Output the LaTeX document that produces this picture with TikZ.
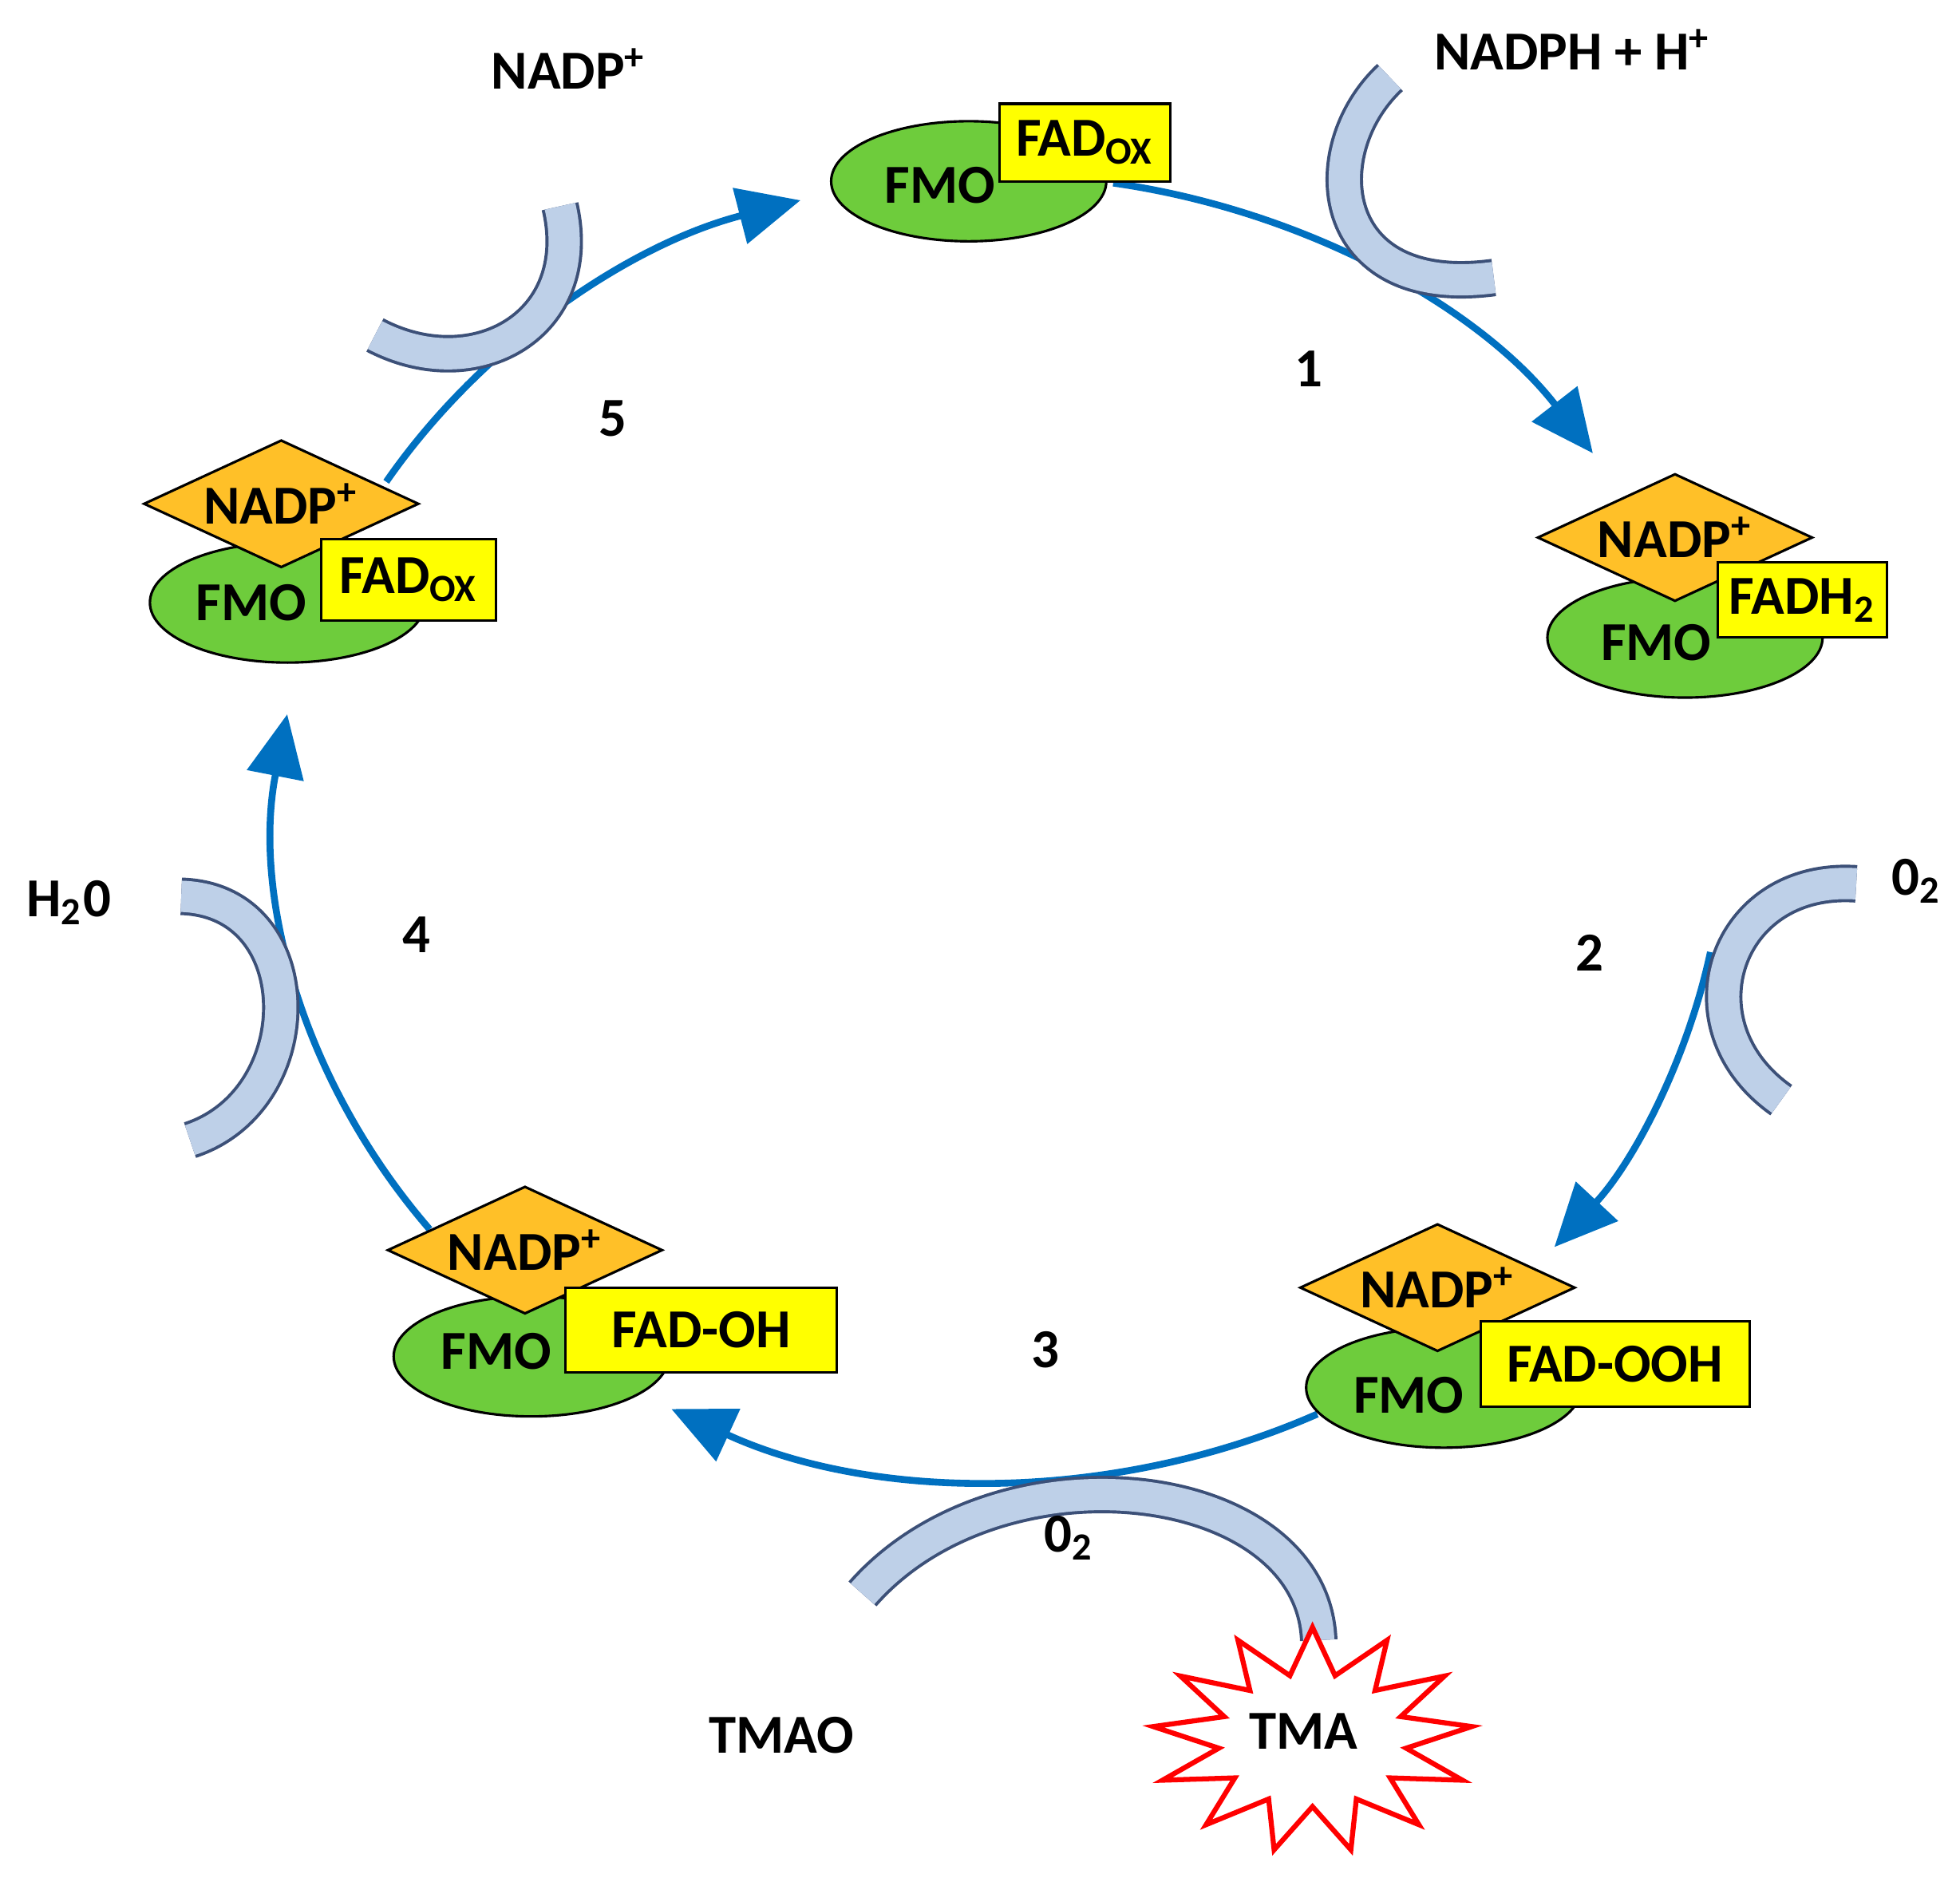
\documentclass[tikz,border=0pt]{standalone}
\usepackage{fontspec}
\setmainfont{Carlito}
\usetikzlibrary{shapes.geometric,arrows.meta,decorations.markings}
\definecolor{cyc}{RGB}{0,112,192}
\definecolor{fmo}{RGB}{110,204,60}
\definecolor{nadp}{RGB}{255,192,40}
\definecolor{fad}{RGB}{255,255,0}
\definecolor{bafill}{RGB}{190,208,232}
\definecolor{baedge}{RGB}{60,80,120}
\begin{document}
\begin{tikzpicture}[x=0.01cm,y=0.01cm,
  txt/.style={font=\fontsize{12.5pt}{14pt}\selectfont\bfseries, inner sep=0},
  fmo/.style={ellipse, draw, line width=0.02cm, fill=fmo, minimum width=2.2cm, minimum height=0.96cm, inner sep=0},
  nadp/.style={diamond, draw, line width=0.02cm, fill=nadp, minimum width=2.2cm, minimum height=1.02cm, inner sep=0, aspect=2.2, font=\fontsize{12.5pt}{14pt}\selectfont\bfseries},
  fad/.style={rectangle, draw, line width=0.02cm, fill=fad, inner sep=0, font=\fontsize{12.5pt}{14pt}\selectfont\bfseries},
  cycle arc/.style={draw=cyc, line width=0.055cm, -{Triangle[length=0.5cm,width=0.45cm]}},
  barrow/.style={draw=baedge, line width=0.025cm, double=bafill, double distance=0.25cm,
    postaction={decorate, decoration={markings, mark=at position 1 with {
      \path[fill=bafill, draw=baedge, line width=0.025cm] (-0.02cm,0.3cm)--(0.42cm,0)--(-0.02cm,-0.3cm)--cycle;}}}}]
\useasboundingbox (0,0) rectangle (1568,1502);
\coordinate (c) at (800,840);
% cycle arcs
\path[cycle arc] (c) ++(81:579 and 522) coordinate (a1) arc[start angle=81,end angle=35,x radius=579,y radius=522];
\path[cycle arc] (c) ++(-11:579 and 522) coordinate (a2) arc[start angle=-11,end angle=-40,x radius=579,y radius=522];
\path[cycle arc] (c) ++(-64:579 and 522) coordinate (a3) arc[start angle=-64,end angle=-117,x radius=579,y radius=522];
\path[cycle arc] (c) ++(218:579 and 522) coordinate (a4) arc[start angle=218,end angle=170,x radius=579,y radius=522];
\path[cycle arc] (c) ++(148:579 and 522) coordinate (a5) arc[start angle=148,end angle=106,x radius=579,y radius=522];
% block arrows
\path[barrow] (1112,1440) .. controls (1050,1382) and (1060,1262) .. (1195,1280);
\path[barrow] (300,1234) .. controls (380,1192) and (470,1242) .. (448,1337);
\path[barrow] (1485,795) .. controls (1380,802) and (1340,682) .. (1425,622);
\path[barrow] (152,590) .. controls (250,622) and (250,782) .. (145,785);
\path[barrow] (1055,190) .. controls (1050,322) and (800,352) .. (690,227);
% top complex
\node[fmo] (e1) at (775,1357) {};
\node[txt] (t1) at (752,1354) {FMO};
\node[fad, minimum width=1.37cm, minimum height=0.62cm] (f1) at (868,1388) {FAD\textsubscript{OX}};
% right-top
\node[fmo] (e2) at (1348,992) {};
\node[nadp] (d2) at (1340,1072) {NADP\textsuperscript{+}};
\node[txt] (t2) at (1325,988) {FMO};
\node[fad, minimum width=1.35cm, minimum height=0.6cm] (f2) at (1442,1022) {FADH\textsubscript{2}};
% right-bottom
\node[fmo] (e3) at (1155,392) {};
\node[nadp] (d3) at (1150,472) {NADP\textsuperscript{+}};
\node[txt] (t3) at (1127,386) {FMO};
\node[fad, minimum width=2.15cm, minimum height=0.68cm] (f3) at (1292,411) {FAD-OOH};
% bottom-left
\node[fmo] (e4) at (425,417) {};
\node[nadp] (d4) at (420,502) {NADP\textsuperscript{+}};
\node[txt] (t4) at (397,421) {FMO};
\node[fad, minimum width=2.17cm, minimum height=0.68cm] (f4) at (561,438) {FAD-OH};
% left
\node[fmo] (e5) at (230,1020) {};
\node[nadp] (d5) at (225,1099) {NADP\textsuperscript{+}};
\node[txt] (t5) at (201,1020) {FMO};
\node[fad, minimum width=1.4cm, minimum height=0.65cm] (f5) at (327,1038) {FAD\textsubscript{OX}};
% numbers
\node[txt] (n1) at (1047,1207) {1};
\node[txt] (n2) at (1272,740) {2};
\node[txt] (n3) at (836,422) {3};
\node[txt] (n4) at (333,754) {4};
\node[txt] (n5) at (490,1167) {5};
% labels
\node[txt] (l1) at (455,1447) {NADP\textsuperscript{+}};
\node[txt] (l2) at (1258,1462) {NADPH + H\textsuperscript{+}};
\node[txt] (l3) at (1533,797) {0\textsubscript{2}};
\node[txt] (l4) at (55,780) {H\textsubscript{2}0};
\node[txt] (l5) at (855,272) {0\textsubscript{2}};
\node[txt] (l6) at (625,114) {TMAO};
\node[star, star points=13, star point ratio=1.7, draw=red, line width=0.04cm, fill=white, minimum size=1.9cm, xscale=1.35, yscale=0.95] (s) at (1050,110) {};
\node[txt] (l7) at (1043,117) {TMA};
\end{tikzpicture}
\end{document}
